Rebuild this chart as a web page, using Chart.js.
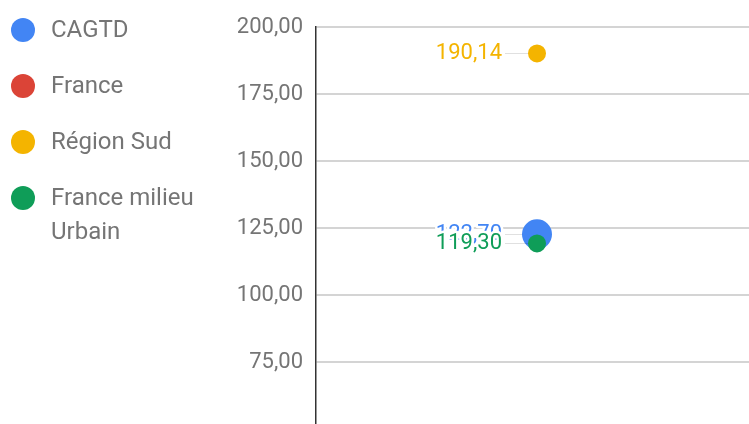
<!DOCTYPE html>
<html>
<head>
<meta charset="utf-8">
<script src="https://cdn.jsdelivr.net/npm/chart.js@4.4.1/dist/chart.umd.min.js"></script>
<style>
  html, body { margin: 0; padding: 0; background: #fff; overflow: hidden; }
  #wrap { width: 749px; height: 424px; overflow: hidden; }
</style>
</head>
<body>
<div id="wrap"><canvas id="myChart" width="758" height="424"></canvas></div>
<script>
// data
const categories = [''];
const seriesNames = ['CAGTD', 'France', 'Région Sud', 'France milieu Urbain'];
const cagtd = [122.70];
const france = [null];
const regionSud = [190.14];
const franceUrbain = [119.30];
const yTicks = [75, 100, 125, 150, 175, 200];

const colors = ['#4285f4', '#db4437', '#f4b400', '#0f9d58'];
const radii = [15, 9, 9, 9];
const values = [cagtd, france, regionSud, franceUrbain];

const fmt = v => v.toFixed(2).replace('.', ',');

// wrap a label into lines no wider than maxW
function wrapText(ctx, text, maxW) {
  const words = text.split(' ');
  const lines = [];
  let line = '';
  words.forEach(w => {
    const test = line ? line + ' ' + w : w;
    if (line && ctx.measureText(test).width > maxW) {
      lines.push(line);
      line = w;
    } else {
      line = test;
    }
  });
  if (line) lines.push(line);
  return lines;
}

// legend drawn down the left side
const sideLegend = {
  id: 'sideLegend',
  afterDraw(chart) {
    const ctx = chart.ctx;
    ctx.save();
    ctx.font = '24px Roboto';
    ctx.textBaseline = 'middle';
    ctx.textAlign = 'left';
    let y = 30;
    chart.data.datasets.forEach(ds => {
      ctx.fillStyle = ds.backgroundColor;
      ctx.beginPath();
      ctx.arc(23, y, 12, 0, Math.PI * 2);
      ctx.fill();
      ctx.fillStyle = '#757575';
      const lines = wrapText(ctx, ds.label, 160);
      lines.forEach((l, k) => ctx.fillText(l, 51, y + 1 + k * 34));
      y += 56 + (lines.length - 1) * 34;
    });
    ctx.restore();
  }
};

// value annotations to the left of each point
const pointLabels = {
  id: 'pointLabels',
  afterDatasetsDraw(chart) {
    const ctx = chart.ctx;
    ctx.save();
    ctx.font = '22px Roboto';
    ctx.textBaseline = 'middle';
    ctx.textAlign = 'right';
    chart.data.datasets.forEach((ds, i) => {
      const meta = chart.getDatasetMeta(i);
      meta.data.forEach((pt, j) => {
        const v = ds.data[j];
        if (v == null) return;
        const tx = pt.x - 35;
        ctx.strokeStyle = 'rgba(0,0,0,0.12)';
        ctx.lineWidth = 1;
        ctx.beginPath();
        ctx.moveTo(tx + 3, Math.round(pt.y) + 0.5);
        ctx.lineTo(pt.x - ds.pointRadius, Math.round(pt.y) + 0.5);
        ctx.stroke();
        ctx.lineWidth = 5;
        ctx.lineJoin = 'round';
        ctx.strokeStyle = '#fff';
        ctx.strokeText(fmt(v), tx, pt.y);
        ctx.fillStyle = ds.backgroundColor;
        ctx.fillText(fmt(v), tx, pt.y);
      });
    });
    ctx.restore();
  }
};

const datasets = seriesNames.map((name, i) => ({
  label: name,
  data: values[i],
  backgroundColor: colors[i],
  borderColor: colors[i],
  showLine: false,
  pointRadius: radii[i],
  pointHoverRadius: radii[i],
  pointBorderWidth: 0,
  order: seriesNames.length - 1 - i
}));

new Chart(document.getElementById('myChart'), {
  type: 'line',
  data: { labels: categories, datasets: datasets },
  options: {
    responsive: false,
    animation: false,
    layout: { autoPadding: false, padding: { top: 27, left: 0, right: 0, bottom: 0 } },
    plugins: {
      legend: { display: false },
      tooltip: { enabled: false }
    },
    scales: {
      x: { type: 'category', display: false, offset: true },
      y: {
        min: 52,
        max: 200,
        afterBuildTicks: s => { s.ticks = yTicks.map(v => ({ value: v })); },
        afterFit: s => { s.width = 316; s.paddingTop = 0; s.paddingBottom = 0; },
        border: { display: true, color: '#333', width: 1.5 },
        grid: { color: '#d4d4d4', lineWidth: 2, drawTicks: false },
        ticks: {
          padding: 13,
          color: '#757575',
          font: { family: 'Roboto', size: 22 },
          callback: v => fmt(v)
        }
      }
    }
  },
  plugins: [sideLegend, pointLabels]
});
</script>
</body>
</html>
